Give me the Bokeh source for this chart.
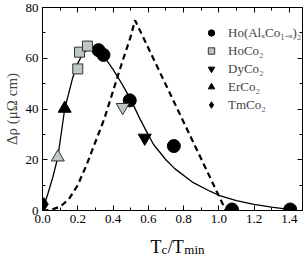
import math
from bokeh.plotting import figure
from bokeh.layouts import column
from bokeh.models import (ColumnDataSource, LinearAxis, SingleIntervalTicker, Legend, LegendItem,
                          Label, CustomJSTickFormatter, Range1d)
from bokeh.embed import file_html
from bokeh.resources import INLINE

# ---- data ----
ho_al_x = [0.318, 0.346, 0.495, 0.745, 1.075, 1.405]
ho_al_y = [63.2, 61.3, 43.4, 25.4, 0.4, 0.4]

hoco2_x = [0.200, 0.210, 0.255]
hoco2_y = [55.8, 62.4, 64.8]

dyco2_x = [0.455, 0.580]
dyco2_y = [40.7, 28.6]
dyco2_fill = ["gray", "black"]

erco2_x = [0.087, 0.126]
erco2_y = [21.0, 40.2]
erco2_fill = ["gray", "black"]

tmco2_x = [0.008]
tmco2_y = [2.5]

fit_x = [0.0, 0.03, 0.06, 0.087, 0.126, 0.17, 0.20, 0.23, 0.26, 0.29, 0.32, 0.35, 0.40, 0.45, 0.50,
         0.55, 0.60, 0.63, 0.70, 0.75, 0.85, 0.95, 1.00, 1.10, 1.20, 1.30, 1.375, 1.43]
fit_y = [0.0, 6.5, 13.5, 21.0, 40.0, 52.0, 58.0, 62.0, 63.6, 63.6, 62.6, 60.6, 55.6, 50.0, 43.8,
         36.5, 29.8, 26.0, 20.0, 16.5, 11.2, 7.6, 6.0, 3.9, 2.4, 1.3, 0.6, 0.4]

dash_x = [0.0, 0.05, 0.10, 0.15, 0.20, 0.25, 0.30, 0.35, 0.40, 0.45, 0.50, 0.525, 1.04]
dash_y = [0.0, 0.3, 1.5, 4.5, 10.0, 18.0, 27.0, 36.0, 47.0, 58.0, 68.5, 75.0, 0.0]

x_label_parts = ["T", "c", "/T", "min"]
y_label = "Δρ (μΩ cm)"
legend_labels = ["Ho(AlₓCo₁₋ₓ)₂", "HoCo₂", "DyCo₂", "ErCo₂", "TmCo₂"]

GRAY = "#bec6c6"
EDGE = "#333333"
FONT = "Liberation Serif"

p = figure(width=304, height=229, output_backend="svg", toolbar_location=None,
           x_range=Range1d(0, 1.475), y_range=Range1d(0, 80),
           min_border_left=40, min_border_right=2, min_border_top=7, min_border_bottom=19,
           x_axis_location=None, y_axis_location=None)
p.xgrid.visible = False
p.ygrid.visible = False
p.outline_line_color = "black"
p.outline_line_width = 1
p.background_fill_color = "white"
p.border_fill_color = "white"

def style_axis(ax, interval, labels=True):
    ax.ticker = SingleIntervalTicker(interval=interval, num_minor_ticks=2)
    ax.major_tick_in = 5
    ax.major_tick_out = 0
    ax.minor_tick_in = 3
    ax.minor_tick_out = 0
    ax.axis_line_color = "black"
    ax.major_tick_line_color = "black"
    ax.minor_tick_line_color = "black"
    if labels:
        ax.major_label_text_font = FONT
        ax.major_label_text_font_size = "13px"
        ax.major_label_text_color = "black"
        ax.major_label_standoff = 5
    else:
        ax.formatter = CustomJSTickFormatter(code="return ''")
        ax.major_label_standoff = 0
        ax.major_label_text_font_size = "1px"

bx = LinearAxis(); style_axis(bx, 0.2)
bx.formatter = CustomJSTickFormatter(code="return tick.toFixed(1)")
bx.major_label_standoff = 4
ly = LinearAxis(); style_axis(ly, 20)
ly.formatter = CustomJSTickFormatter(code="return tick.toFixed(0)")
ly.major_label_standoff = 4
ly.axis_label = y_label
ly.axis_label_text_font = FONT
ly.axis_label_text_font_style = "normal"
ly.axis_label_text_font_size = "15px"
ly.axis_label_standoff = 3
tx = LinearAxis(); style_axis(tx, 0.2, labels=False)
ry = LinearAxis(); style_axis(ry, 20, labels=False)
p.add_layout(bx, "below")
p.add_layout(ly, "left")
p.add_layout(tx, "above")
p.add_layout(ry, "right")

# curves
p.line(fit_x, fit_y, line_color="black", line_width=1.3)
p.line(dash_x, dash_y, line_color="black", line_width=2.2, line_dash="6 4")

# points
r_ho = p.scatter(ho_al_x, ho_al_y, marker="circle", size=13, fill_color="black", line_color="black")
r_hoco = p.scatter(hoco2_x, hoco2_y, marker="square", size=10, fill_color=GRAY, line_color=EDGE)
dy_src = ColumnDataSource(dict(x=dyco2_x, y=dyco2_y,
                               f=[GRAY if c == "gray" else "black" for c in dyco2_fill],
                               l=[EDGE if c == "gray" else "black" for c in dyco2_fill]))
r_dy = p.scatter("x", "y", source=dy_src, marker="inverted_triangle", size=13,
                 fill_color="f", line_color="l")
er_src = ColumnDataSource(dict(x=erco2_x, y=erco2_y,
                               f=[GRAY if c == "gray" else "black" for c in erco2_fill],
                               l=[EDGE if c == "gray" else "black" for c in erco2_fill]))
r_er = p.scatter("x", "y", source=er_src, marker="triangle", size=13,
                 fill_color="f", line_color="l")
r_tm = p.scatter(tmco2_x, tmco2_y, marker="diamond", size=13, fill_color="black", line_color="black")

items = [
    LegendItem(label=legend_labels[0], renderers=[r_ho], index=0),
    LegendItem(label=legend_labels[1], renderers=[r_hoco], index=0),
    LegendItem(label=legend_labels[2], renderers=[r_dy], index=1),
    LegendItem(label=legend_labels[3], renderers=[r_er], index=1),
    LegendItem(label=legend_labels[4], renderers=[r_tm], index=0),
]
legend = Legend(items=items, location=(161, 97), padding=0, margin=0, spacing=1,
                glyph_width=16, glyph_height=17, label_height=17, label_standoff=9,
                border_line_color=None, background_fill_alpha=0,
                label_text_font=FONT, label_text_font_size="13px")
p.add_layout(legend, "center")

# strip below the chart carrying the x axis title (with subscripts);
# its frame is aligned with the main frame (left edge at x=40)
p2 = figure(width=304, height=25, output_backend="svg", toolbar_location=None,
            x_range=Range1d(0, 1), y_range=Range1d(0, 1),
            min_border_left=0, min_border_right=0, min_border_top=0, min_border_bottom=0,
            x_axis_location=None, y_axis_location=None)
p2.xgrid.visible = False
p2.ygrid.visible = False
p2.outline_line_color = None
p2.background_fill_color = "white"
p2.border_fill_color = "white"

fs_main, fs_sub = 18, 13
x0 = 108
adv = [0.611 * fs_main, 0.444 * fs_sub + 0.5, (0.278 + 0.611) * fs_main + 0.5]
xs = [x0, x0 + adv[0], x0 + adv[0] + adv[1], x0 + adv[0] + adv[1] + adv[2]]
ys = [8, 5, 8, 5]
sizes = [fs_main, fs_sub, fs_main, fs_sub]
for t, xx, yy, fs in zip(x_label_parts, xs, ys, sizes):
    p2.add_layout(Label(x=xx, y=yy, x_units="screen", y_units="screen", text=t,
                        text_baseline="alphabetic", text_align="left", text_font=FONT,
                        text_font_size=f"{fs}px", text_color="black"))

layout = column(p, p2, spacing=0)
open("out.html", "w").write(file_html(layout, INLINE))
